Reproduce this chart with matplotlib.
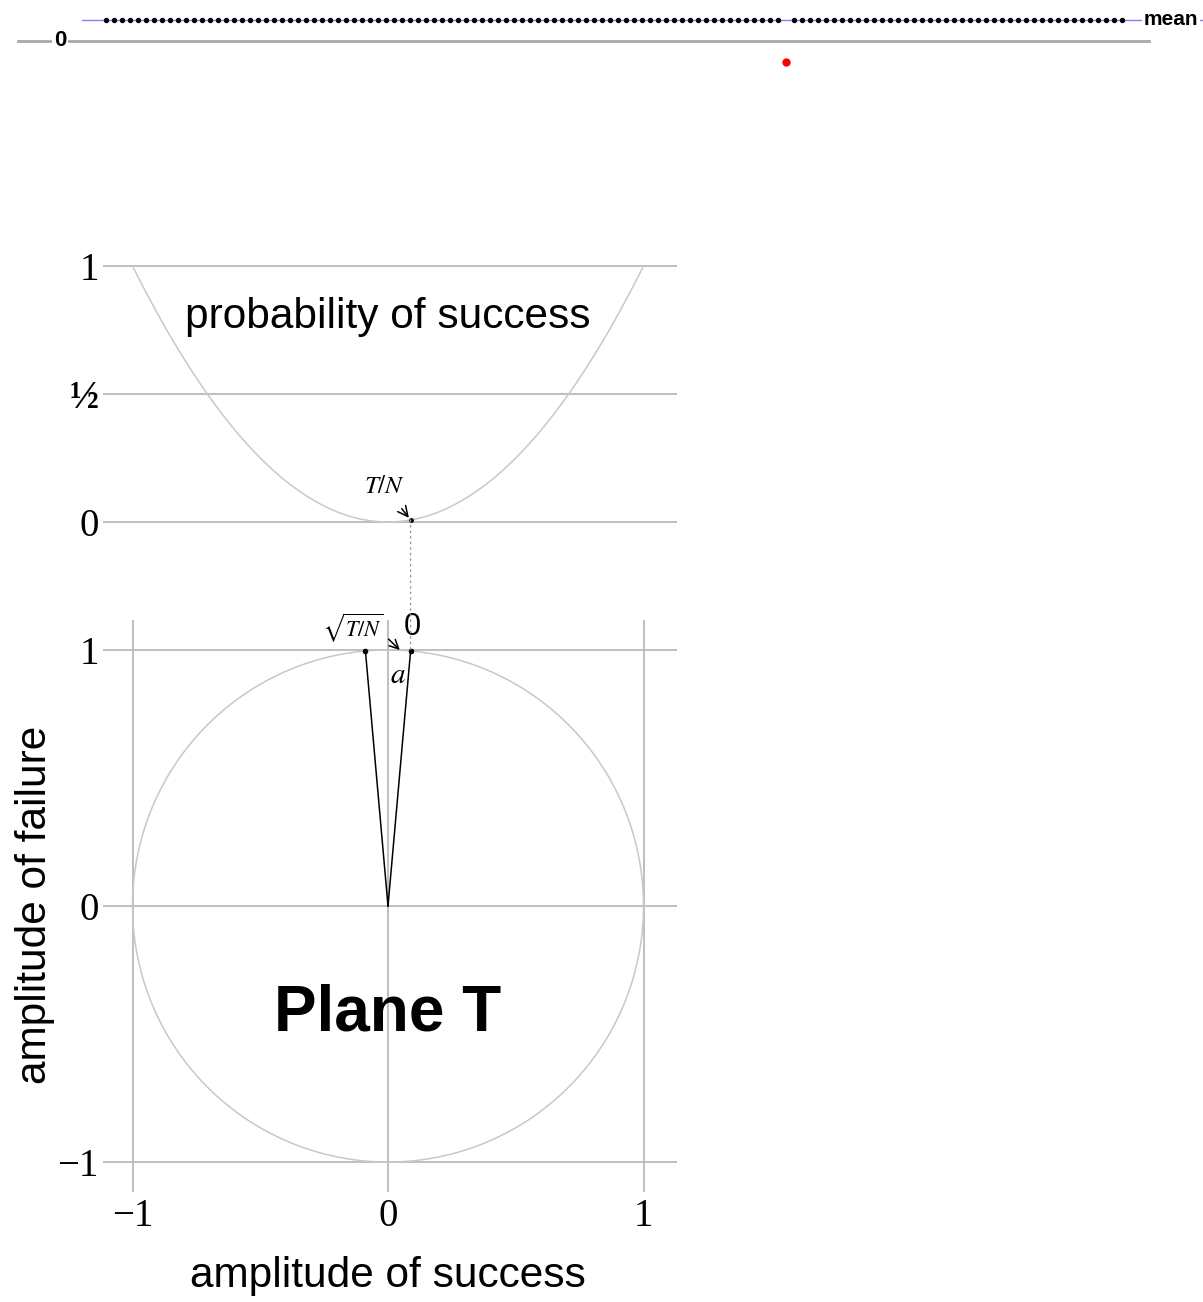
import numpy as np
import matplotlib
matplotlib.use("Agg")
import matplotlib.pyplot as plt
from matplotlib.patches import ConnectionPatch

plt.rcParams['font.family'] = ['Liberation Sans', 'DejaVu Sans']
plt.rcParams['mathtext.fontset'] = 'stix'

# search space: N items, one of them marked (T = 1)
N = 128
T = 1
marked = 85
amp = 1 / np.sqrt(N)
amplitudes = [-amp if i == marked else amp for i in range(N)]
mean_amp = sum(amplitudes) / N

prob_ticks = [0, 0.5, 1]
prob_labels = ["0", "½", "1"]
amp_ticks = [-1, 0, 1]
amp_labels = ["\u22121", "0", "1"]

W, H = 1203, 1302
fig = plt.figure(figsize=(W / 100, H / 100), dpi=100)

def px_axes(x0, y0, x1, y1):
    return fig.add_axes([x0 / W, (H - y1) / H, (x1 - x0) / W, (y1 - y0) / H])

serif = 'Liberation Serif'
grid_c = '#b4b4b4'
curve_c = '#c8c8c8'

# --- top strip: amplitude of every item ---
ax0 = px_axes(0, 0, W, 80)
ax0.set_xlim(-13.25, 137.1)
ax0.set_ylim(-0.1605, 0.1687)
ax0.axis('off')
ax0.plot([-11, 130.4], [0, 0], color='#a8a8a8', lw=2, zorder=1)
ax0.plot([-3, 138], [mean_amp, mean_amp], color='#8080ff', lw=1, zorder=1)
idx = np.arange(N)
vals = np.array(amplitudes)
pos = vals > 0
ax0.scatter(idx[pos], vals[pos], s=15, color='black', zorder=3, linewidths=0)
ax0.scatter(idx[~pos], vals[~pos], s=36, color='red', zorder=3, linewidths=0)
ax0.text(-5.75, 0, "0", ha='center', va='center', fontsize=16, fontweight='bold',
         bbox=dict(facecolor='white', edgecolor='none', pad=1), zorder=4)
ax0.text(133.1, mean_amp, "mean", ha='center', va='center', fontsize=15, fontweight='bold',
         bbox=dict(facecolor='white', edgecolor='none', pad=1), zorder=4)

# --- probability of success as a function of amplitude ---
ax1 = px_axes(103, 250, 677, 540)
ax1.set_xlim(-1.1155, 1.1311)
ax1.set_ylim(-0.0703, 1.0625)
for s in ax1.spines.values():
    s.set_visible(False)
for y in prob_ticks:
    ax1.axhline(y, color=grid_c, lw=1.2, zorder=1)
xs = np.linspace(-1, 1, 400)
ax1.plot(xs, xs ** 2, color=curve_c, lw=1.1, zorder=2)
ax1.set_xticks([])
ax1.set_yticks(prob_ticks)
ax1.set_yticklabels(prob_labels, fontfamily=serif, fontsize=28)
ax1.get_yticklabels()[1].set_fontweight('bold')
ax1.tick_params(length=0, pad=3)
ax1.text(0, 0.80, "probability of success", ha='center', va='center', fontsize=30.5)
s0 = np.sqrt(T / N)
ax1.scatter([s0], [T / N], s=12, color='black', zorder=4, linewidths=0)
ax1.annotate("$T/N$", xy=(s0, T / N), xytext=(-0.015, 0.14), ha='center', va='center',
             fontsize=18, arrowprops=dict(arrowstyle='->', color='black', lw=1.1,
                                          shrinkA=7, shrinkB=2))

# --- amplitude plane ---
ax2 = px_axes(103, 620, 677, 1192)
ax2.set_xlim(-1.1155, 1.1311)
ax2.set_ylim(-1.117, 1.117)
for s in ax2.spines.values():
    s.set_visible(False)
for v in amp_ticks:
    ax2.axhline(v, color=grid_c, lw=1.2, zorder=1)
    ax2.axvline(v, color=grid_c, lw=1.2, zorder=1)
th = np.linspace(0, 2 * np.pi, 500)
ax2.plot(np.cos(th), np.sin(th), color=curve_c, lw=1.1, zorder=2)
c0 = np.sqrt(1 - T / N)
ax2.plot([0, s0], [0, c0], color='black', lw=1.1, zorder=3)
ax2.plot([0, -s0], [0, c0], color='black', lw=1.1, zorder=3)
ax2.scatter([s0, -s0], [c0, c0], s=16, color='black', zorder=4, linewidths=0)
ax2.set_xticks(amp_ticks)
ax2.set_xticklabels(amp_labels, fontfamily=serif, fontsize=28)
ax2.set_yticks(amp_ticks)
ax2.set_yticklabels(amp_labels, fontfamily=serif, fontsize=28)
ax2.tick_params(length=0, pad=3)
ax2.tick_params(axis='x', pad=4)
ax2.text(s0 + 0.005, c0 + 0.095, "0", ha='center', va='center', fontsize=22)
ax2.annotate(r"$\sqrt{T/N}$", xy=(0.05, c0), xytext=(-0.137, c0 + 0.09),
             ha='center', va='center', fontsize=16,
             arrowprops=dict(arrowstyle='->', color='black', lw=1.1, shrinkA=2, shrinkB=1,
                             relpos=(1.0, 0.3)))
ax2.text(0.04, c0 - 0.095, "$a$", ha='center', va='center', fontsize=21)
ax2.text(0, -0.42, "Plane T", ha='center', va='center', fontsize=46, fontweight='bold')

# dotted link from the parabola point down to the state vector
con = ConnectionPatch(xyA=(s0, T / N), coordsA=ax1.transData,
                      xyB=(s0, c0), coordsB=ax2.transData,
                      color='#999999', lw=1, linestyle=(0, (1, 3)))
fig.add_artist(con)

fig.text(388 / W, 1 - 1276 / H, "amplitude of success", ha='center', va='center', fontsize=30.5)
fig.text(35 / W, 1 - 905 / H, "amplitude of failure", ha='center', va='center',
         fontsize=30.5, rotation=90)

fig.savefig("out.png", dpi=100)
